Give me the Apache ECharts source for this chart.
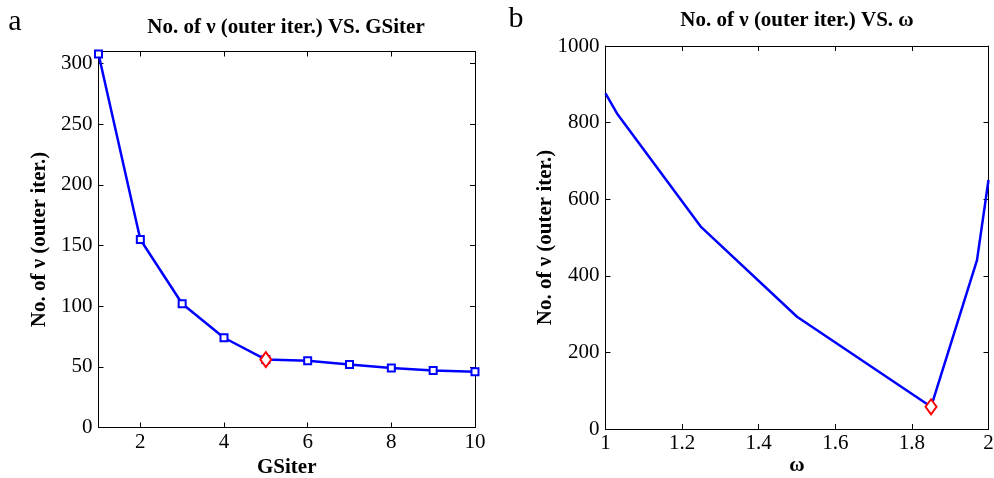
<!DOCTYPE html>
<html>
<head>
<meta charset="utf-8">
<script src="https://cdn.jsdelivr.net/npm/echarts@6/dist/echarts.min.js"></script>
<style>
html,body{margin:0;padding:0;background:#fff;}
#chart{width:994px;height:478px;}
</style>
</head>
<body>
<div id="chart"></div>
<script>
// ---- Data ----
const gsIter = [1, 2, 3, 4, 5, 6, 7, 8, 9, 10];
const outerIterA = [308, 155, 102, 74, 56, 55, 52, 49, 47, 46];
const bestA = [5, 56];

const omega = [1, 1.03, 1.25, 1.5, 1.85, 1.97, 2];
const outerIterB = [876, 824, 527, 293, 58, 441, 650];
const bestB = [1.85, 58];

const xTicksA = [2, 4, 6, 8, 10];
const yTicksA = [0, 50, 100, 150, 200, 250, 300];
const xTicksB = [1, 1.2, 1.4, 1.6, 1.8, 2];
const yTicksB = [0, 200, 400, 600, 800, 1000];

const titleA = 'No. of \u03bd (outer iter.) VS. GSiter';
const titleB = 'No. of \u03bd (outer iter.) VS. \u03c9';
const yNameA = 'No. of \u03bd (outer iter.)';
const yNameB = 'No. of \u03bd (outer iter.)';
const xNameA = 'GSiter';
const xNameB = '\u03c9';

// ---- Styling ----
const FONT = '"Liberation Serif", "DejaVu Serif", serif';
const black = '#000';
const blue = '#0000ff';
const red = '#ff0000';

function zip(a, b) { return a.map((v, i) => [v, b[i]]); }
function plain(v) { return String(+v.toFixed(4)); }

function xAx(grid, min, max, ticks, pos, showLabel, name, gap) {
  return {
    type: 'value', gridIndex: grid, min: min, max: max, position: pos,
    name: name || '', nameLocation: 'middle', nameGap: gap || 30, nameMoveOverlap: false,
    nameTextStyle: { fontFamily: FONT, fontWeight: 'bold', fontSize: 21, color: black },
    axisLine: { show: true, onZero: false, lineStyle: { color: black, width: 1 } },
    axisTick: { show: true, inside: true, length: 5, customValues: ticks, lineStyle: { color: black } },
    axisLabel: { show: showLabel, customValues: ticks, margin: 4, formatter: plain, fontFamily: FONT, fontSize: 21, color: black },
    splitLine: { show: false }
  };
}
function yAx(grid, min, max, ticks, pos, showLabel, name, gap) {
  return {
    type: 'value', gridIndex: grid, min: min, max: max, position: pos,
    name: name || '', nameLocation: 'middle', nameGap: gap || 48, nameMoveOverlap: false,
    nameTextStyle: { fontFamily: FONT, fontWeight: 'bold', fontSize: 21, color: black },
    axisLine: { show: true, onZero: false, lineStyle: { color: black, width: 1 } },
    axisTick: { show: true, inside: true, length: 5, customValues: ticks, lineStyle: { color: black } },
    axisLabel: { show: showLabel, customValues: ticks, margin: 6, formatter: plain, fontFamily: FONT, fontSize: 21, color: black },
    splitLine: { show: false }
  };
}

const chart = echarts.init(document.getElementById('chart'), null, { renderer: 'canvas' });
chart.setOption({
  animation: false,
  backgroundColor: '#fff',
  grid: [
    { left: 98.5, right: 519, top: 51.5, bottom: 50.5, containLabel: false, outerBoundsMode: 'none' },
    { left: 605.5, right: 5.5, top: 46, bottom: 49, containLabel: false, outerBoundsMode: 'none' }
  ],
  xAxis: [
    xAx(0, 1, 10, xTicksA, 'bottom', true, xNameA, 30),
    xAx(0, 1, 10, xTicksA, 'top', false),
    xAx(1, 1, 2, xTicksB, 'bottom', true, xNameB, 26),
    xAx(1, 1, 2, xTicksB, 'top', false)
  ],
  yAxis: [
    yAx(0, 0, 310, yTicksA, 'left', true, yNameA, 48),
    yAx(0, 0, 310, yTicksA, 'right', false),
    yAx(1, 0, 1000, yTicksB, 'left', true, yNameB, 49.5),
    yAx(1, 0, 1000, yTicksB, 'right', false)
  ],
  graphic: [
    { type: 'text', x: 15, y: 22, style: { text: 'a', font: '30px ' + FONT, fill: black, align: 'center', verticalAlign: 'middle' } },
    { type: 'text', x: 516, y: 19, style: { text: 'b', font: '30px ' + FONT, fill: black, align: 'center', verticalAlign: 'middle' } },
    { type: 'text', x: 286, y: 28, style: { text: titleA, font: 'bold 21px ' + FONT, fill: black, align: 'center', verticalAlign: 'middle' } },
    { type: 'text', x: 797, y: 21, style: { text: titleB, font: 'bold 21px ' + FONT, fill: black, align: 'center', verticalAlign: 'middle' } }
  ],
  series: [
    {
      type: 'line', xAxisIndex: 0, yAxisIndex: 0, data: zip(gsIter, outerIterA),
      symbol: 'emptyRect', symbolSize: 7, showAllSymbol: true,
      lineStyle: { color: blue, width: 2.5 },
      itemStyle: { color: blue, borderColor: blue, borderWidth: 2 },
      z: 3
    },
    {
      type: 'scatter', xAxisIndex: 0, yAxisIndex: 0, data: [bestA],
      symbol: 'emptyDiamond', symbolSize: [11, 15],
      itemStyle: { color: red, borderColor: red, borderWidth: 2.5, opacity: 1 },
      z: 5
    },
    {
      type: 'line', xAxisIndex: 2, yAxisIndex: 2, data: zip(omega, outerIterB),
      showSymbol: false, symbol: 'none',
      lineStyle: { color: blue, width: 2.5 },
      z: 3
    },
    {
      type: 'scatter', xAxisIndex: 2, yAxisIndex: 2, data: [bestB],
      symbol: 'emptyDiamond', symbolSize: [11, 15],
      itemStyle: { color: red, borderColor: red, borderWidth: 2.5, opacity: 1 },
      z: 5
    }
  ]
});
</script>
</body>
</html>
